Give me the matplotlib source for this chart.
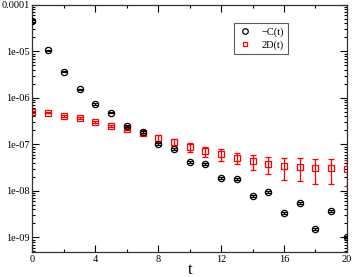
import numpy as np
import matplotlib.pyplot as plt
from matplotlib.lines import Line2D
from matplotlib.ticker import FixedLocator, LogLocator, NullFormatter

t = np.arange(0, 21)
minus_c = [4.53e-5, 1.05e-5, 3.68e-6, 1.54e-6, 7.4e-7, 4.8e-7, 2.5e-7, 1.85e-7,
           1.03e-7, 8.0e-8, 4.2e-8, 3.8e-8, 1.9e-8, 1.8e-8, 7.8e-9, 9.5e-9,
           3.4e-9, 5.5e-9, 1.5e-9, 3.7e-9, 1.02e-9]
minus_c_err = [1.2e-6, 3e-7, 1.1e-7, 5e-8, 2.5e-8, 1.6e-8, 8e-9, 6e-9,
               3.5e-9, 2.8e-9, 1.5e-9, 1.4e-9, 7e-10, 7e-10, 3e-10, 4e-10,
               1.5e-10, 2.5e-10, 7e-11, 1.8e-10, 5e-11]
two_d = [5.0e-7, 4.8e-7, 4.1e-7, 3.7e-7, 3.05e-7, 2.5e-7, 2.15e-7, 1.77e-7,
         1.38e-7, 1.13e-7, 8.8e-8, 7.2e-8, 6.25e-8, 5.1e-8, 4.4e-8, 3.8e-8,
         3.4e-8, 3.3e-8, 3.1e-8, 3.1e-8, 3.0e-8]
two_d_err = [1.5e-8, 1.4e-8, 1.3e-8, 1.2e-8, 1.1e-8, 1.1e-8, 1.2e-8, 1.4e-8,
             2.3e-8, 1.9e-8, 1.8e-8, 1.8e-8, 1.8e-8, 1.3e-8, 1.6e-8, 1.5e-8,
             1.7e-8, 1.7e-8, 1.7e-8, 1.7e-8, 1.7e-8]

xticks = [0, 4, 8, 12, 16, 20]
ytick_vals = [1e-9, 1e-8, 1e-7, 1e-6, 1e-5, 1e-4]
ytick_labels = ["1e-09", "1e-08", "1e-07", "1e-06", "1e-05", "0.0001"]

plt.rcParams['font.family'] = ['Liberation Serif', 'DejaVu Serif']

fig = plt.figure(figsize=(3.54, 2.77), dpi=100)
ax = fig.add_axes([0.0918, 0.0903, 0.8882, 0.8917])

ax.errorbar(t, minus_c, yerr=minus_c_err, fmt='o', mfc='none', mec='black',
            ecolor='black', ms=4.5, mew=0.9, elinewidth=0.9, capsize=2.2,
            capthick=0.9, zorder=3)
ax.errorbar(t, two_d, yerr=two_d_err, fmt='s', mfc='none', mec='red',
            ecolor='red', ms=4, mew=0.9, elinewidth=0.9, capsize=2.5,
            capthick=0.9, zorder=2)

ax.set_yscale('log')
ax.set_xlim(0, 20)
ax.set_ylim(4.85e-10, 1e-4)
ax.xaxis.set_major_locator(FixedLocator(xticks))
ax.xaxis.set_minor_locator(FixedLocator([2, 6, 10, 14, 18]))
ax.set_yticks(ytick_vals)
ax.set_yticklabels(ytick_labels)
ax.yaxis.set_minor_locator(LogLocator(base=10, subs=np.arange(2, 10)))
ax.yaxis.set_minor_formatter(NullFormatter())
ax.tick_params(which='both', direction='in', top=True, right=True,
               labelsize=7.5, width=0.8, pad=2)
ax.tick_params(which='major', length=5)
ax.tick_params(which='minor', length=2.5)
for s in ax.spines.values():
    s.set_linewidth(0.9)
    s.set_color('#333333')

ax.set_xlabel('t', fontsize=12, labelpad=-1)

handles = [Line2D([], [], ls='none', marker='o', mfc='none', mec='black', ms=4, mew=0.9),
           Line2D([], [], ls='none', marker='s', mfc='none', mec='red', ms=3.5, mew=0.9)]
leg = ax.legend(handles, ['\u2212C(t)', '2D(t)'], loc='upper left',
                bbox_to_anchor=(0.6417, 0.926), fontsize=7.5,
                frameon=True, fancybox=False, edgecolor='#333333',
                handlelength=1.2, handletextpad=1.0, borderpad=0.4,
                labelspacing=0.3, borderaxespad=0)
leg.get_frame().set_linewidth(0.8)

fig.savefig('out.png', dpi=100)
